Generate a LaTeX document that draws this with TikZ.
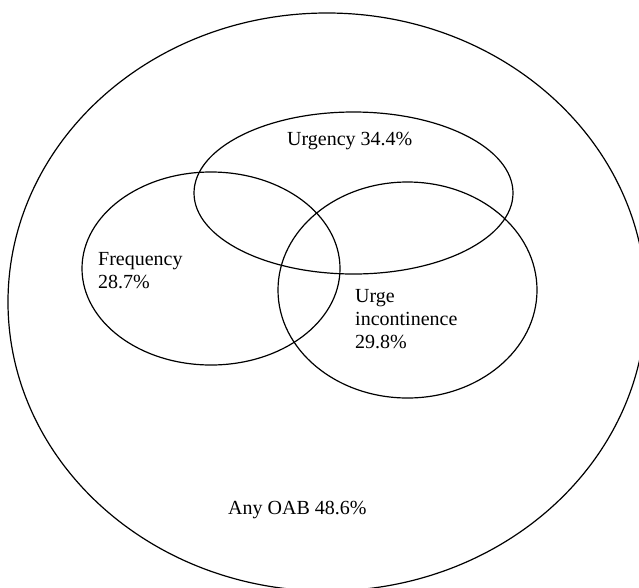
\documentclass[tikz,border=0pt]{standalone}
\usepackage{fontspec}
\setmainfont{Liberation Serif}
\usetikzlibrary{shapes.geometric}
\begin{document}
\begin{tikzpicture}[x=1pt,y=-1pt,
  set/.style={draw=black,line width=1.2pt,ellipse,inner sep=0pt},
  lbl/.style={anchor=base west,inner sep=0pt,align=left,font=\fontsize{20}{22.8}\selectfont,text=black}]
\useasboundingbox (0,0) rectangle (639,587);
\clip (0,0) rectangle (639,587);
\fill[white] (0,0) rectangle (639,587);
\node[set,minimum width=638pt,minimum height=578pt] (oab) at (327,302) {};
\node[set,minimum width=319pt,minimum height=162pt] (urg) at (353.5,193) {};
\node[set,minimum width=258pt,minimum height=193pt] (freq) at (211,268.5) {};
\node[set,minimum width=259pt,minimum height=216pt] (ui) at (407.5,290) {};
\node[lbl] (turg) at (287,145) {Urgency 34.4\%};
\node[lbl] (tfreq) at (98,288) {Frequency\\28.7\%};
\node[lbl] (tui) at (355,348) {Urge\\incontinence\\29.8\%};
\node[lbl] (toab) at (228,514) {Any OAB 48.6\%};
\end{tikzpicture}
\end{document}
